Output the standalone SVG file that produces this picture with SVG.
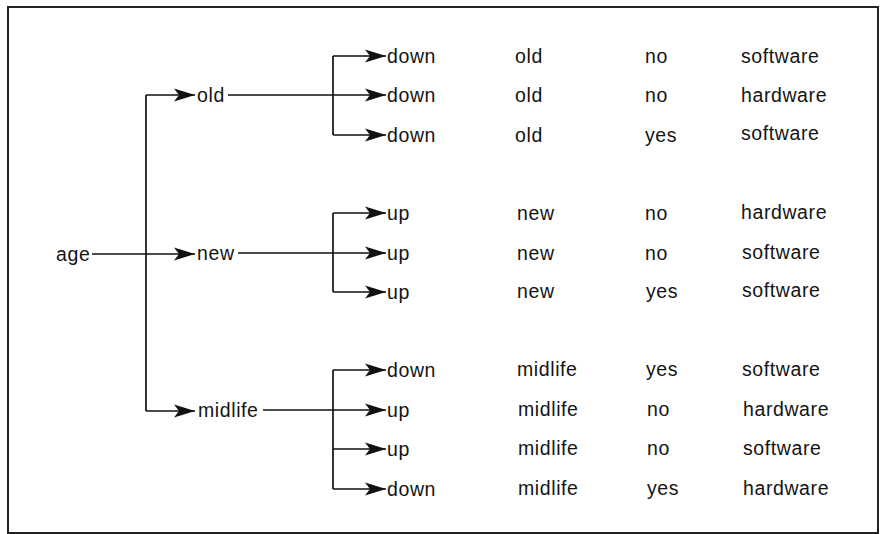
<svg xmlns="http://www.w3.org/2000/svg" width="883" height="534" viewBox="0 0 883 534">
<style>
text{font-family:"Liberation Sans",Arial,sans-serif;font-size:19.5px;letter-spacing:0.6px;fill:#141414}
.ln{stroke:#111;stroke-width:1.7;fill:none}
</style>
<defs>
<marker id="ah" viewBox="-22 -7 22 14" refX="0" refY="0" markerWidth="22" markerHeight="14" markerUnits="userSpaceOnUse" orient="auto">
<path d="M0,0 L-21,-6.5 L-16,0 L-21,6.5 Z" fill="#111"/>
</marker>
</defs>
<rect x="0" y="0" width="883" height="534" fill="#fff"/>
<rect x="8" y="7" width="870" height="526" fill="none" stroke="#222" stroke-width="2"/>
<g id="connectors" class="ln">
<path class="ln" d="M92,254 H195" marker-end="url(#ah)"/>
<path class="ln" d="M146,95 V411"/>
<path class="ln" d="M146,95 H195" marker-end="url(#ah)"/>
<path class="ln" d="M146,411 H195" marker-end="url(#ah)"/>
<path class="ln" d="M228,95 H386" marker-end="url(#ah)"/>
<path class="ln" d="M333,56 V135"/>
<path class="ln" d="M333,56 H386" marker-end="url(#ah)"/>
<path class="ln" d="M333,135 H386" marker-end="url(#ah)"/>
<path class="ln" d="M238,253 H386" marker-end="url(#ah)"/>
<path class="ln" d="M333,213 V292"/>
<path class="ln" d="M333,213 H386" marker-end="url(#ah)"/>
<path class="ln" d="M333,292 H386" marker-end="url(#ah)"/>
<path class="ln" d="M263,410 H386" marker-end="url(#ah)"/>
<path class="ln" d="M333,370 V489"/>
<path class="ln" d="M333,370 H386" marker-end="url(#ah)"/>
<path class="ln" d="M333,449 H386" marker-end="url(#ah)"/>
<path class="ln" d="M333,489 H386" marker-end="url(#ah)"/>
</g>
<g id="age"><text x="56" y="261">age</text></g>
<g id="old"><text x="197" y="102">old</text></g>
<g id="new"><text x="197" y="260">new</text></g>
<g id="midlife"><text x="198" y="417">midlife</text></g>
<g id="row1"><text x="387" y="63">down</text><text x="515" y="63">old</text><text x="645" y="63">no</text><text x="741" y="63">software</text></g>
<g id="row2"><text x="387" y="102">down</text><text x="515" y="102">old</text><text x="645" y="102">no</text><text x="741" y="102">hardware</text></g>
<g id="row3"><text x="387" y="142">down</text><text x="515" y="142">old</text><text x="645" y="142">yes</text><text x="741" y="140">software</text></g>
<g id="row4"><text x="387" y="220">up</text><text x="517" y="220">new</text><text x="645" y="220">no</text><text x="741" y="219">hardware</text></g>
<g id="row5"><text x="387" y="260">up</text><text x="517" y="260">new</text><text x="645" y="260">no</text><text x="742" y="259">software</text></g>
<g id="row6"><text x="387" y="299">up</text><text x="517" y="298">new</text><text x="646" y="298">yes</text><text x="742" y="297">software</text></g>
<g id="row7"><text x="387" y="377">down</text><text x="517" y="376">midlife</text><text x="646" y="376">yes</text><text x="742" y="376">software</text></g>
<g id="row8"><text x="387" y="417">up</text><text x="518" y="416">midlife</text><text x="647" y="416">no</text><text x="743" y="416">hardware</text></g>
<g id="row9"><text x="387" y="456">up</text><text x="518" y="455">midlife</text><text x="647" y="455">no</text><text x="743" y="455">software</text></g>
<g id="row10"><text x="387" y="496">down</text><text x="518" y="495">midlife</text><text x="647" y="495">yes</text><text x="743" y="495">hardware</text></g>
</svg>
